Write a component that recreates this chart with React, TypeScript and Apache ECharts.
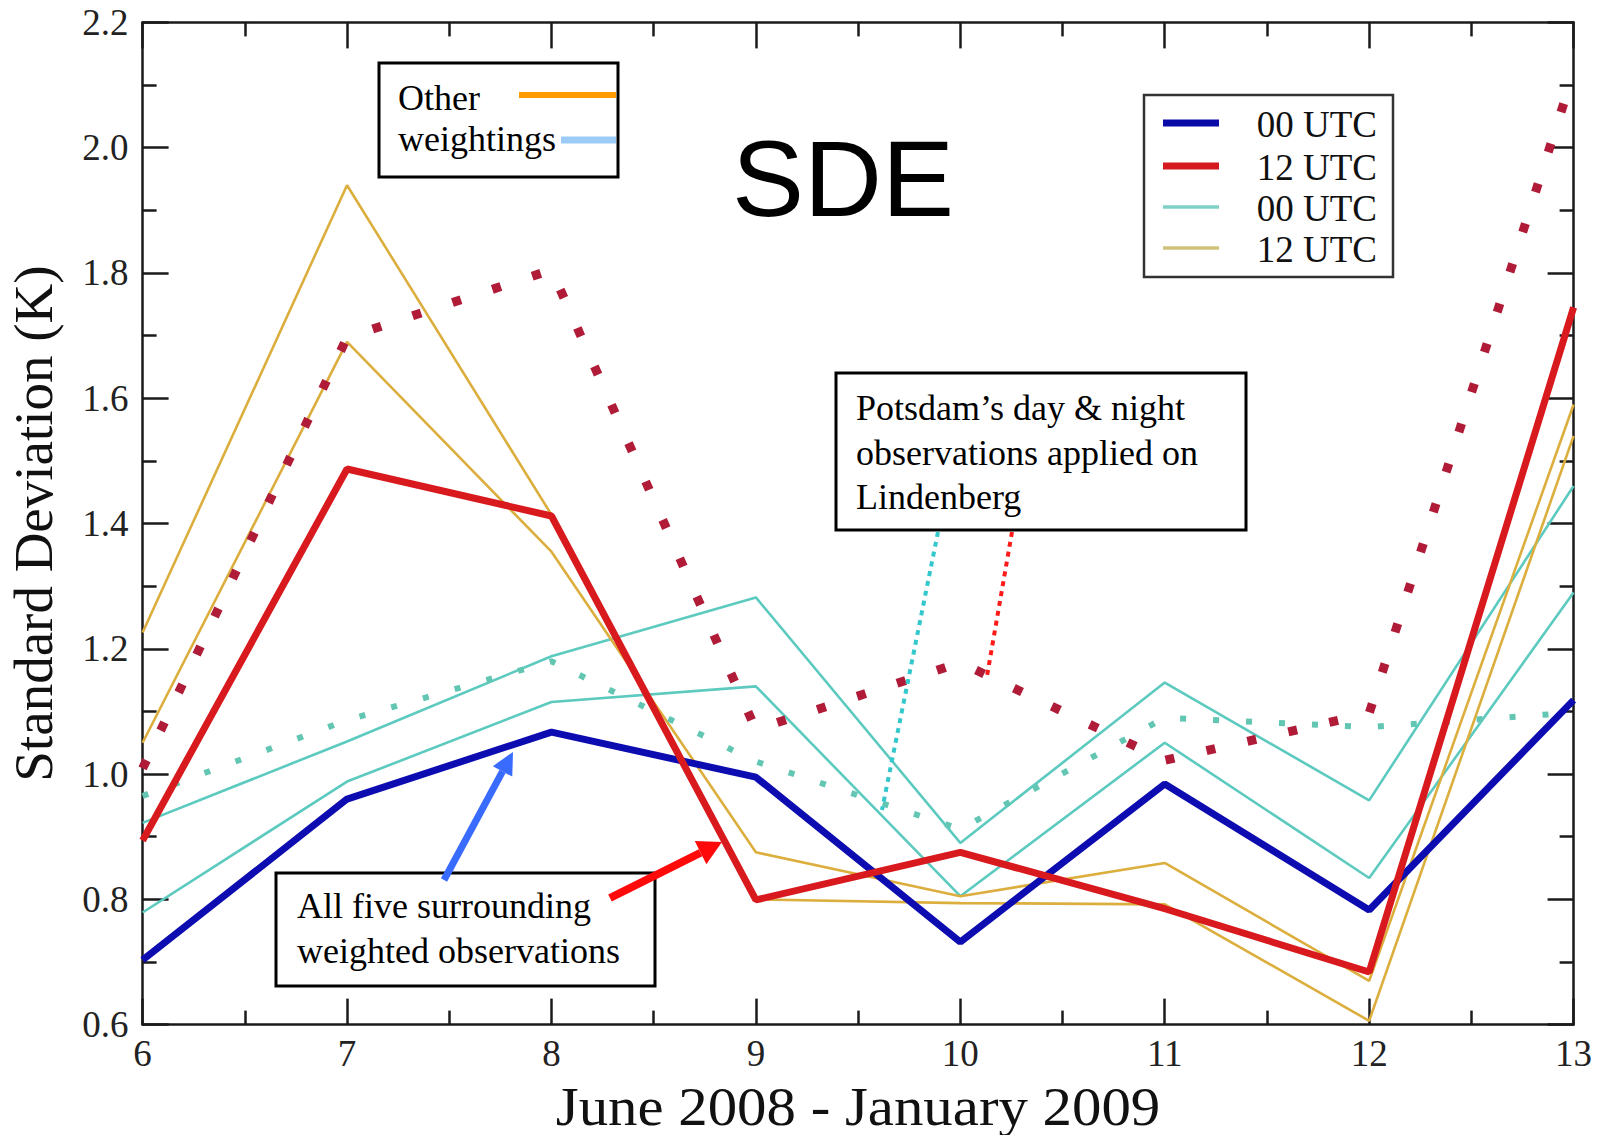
import React, { useEffect, useRef } from "react";
import * as echarts from "echarts";

// ---- data ----
const months = [6, 7, 8, 9, 10, 11, 12, 13];
const allFive00 = [0.703, 0.960, 1.067, 0.995, 0.732, 0.984, 0.783, 1.118];
const allFive12 = [0.894, 1.487, 1.412, 0.799, 0.875, 0.785, 0.684, 1.745];
const potsdam12 = [1.009, 1.697, 1.805, 1.071, 1.178, 1.022, 1.097, 2.12];
const potsdam00 = [0.965, 1.086, 1.180, 1.020, 0.912, 1.090, 1.075, 1.098];
const otherA00 = [0.922, 1.052, 1.188, 1.282, 0.890, 1.146, 0.958, 1.460];
const otherB00 = [0.779, 0.988, 1.115, 1.140, 0.805, 1.050, 0.834, 1.290];
const otherA12 = [1.226, 1.940, 1.414, 0.800, 0.794, 0.792, 0.606, 1.540];
const otherB12 = [1.050, 1.690, 1.355, 0.875, 0.805, 0.858, 0.670, 1.590];
const yTicks = [0.6, 0.8, 1.0, 1.2, 1.4, 1.6, 1.8, 2.0, 2.2];
const legendLabels = ["00 UTC", "12 UTC", "00 UTC", "12 UTC"];
const xTitle = "June 2008 - January 2009";

const SERIF = "'Liberation Serif', 'Times New Roman', serif";
const SANS = "'Liberation Sans', Arial, sans-serif";

const pairs = (vals: number[]) => months.map((m, i) => [m, vals[i]]);

function arrow(x1: number, y1: number, x2: number, y2: number, color: string, w: number, hl: number, hw: number) {
  const dx = x2 - x1, dy = y2 - y1;
  const len = Math.sqrt(dx * dx + dy * dy);
  const ux = dx / len, uy = dy / len;
  const bx = x2 - ux * hl, by = y2 - uy * hl;
  const px = -uy, py = ux;
  return [
    { type: "line", z: 100, shape: { x1, y1, x2: bx, y2: by }, style: { stroke: color, lineWidth: w } },
    {
      type: "polygon", z: 100,
      shape: { points: [[x2, y2], [bx + px * hw, by + py * hw], [bx - px * hw, by - py * hw]] },
      style: { fill: color },
    },
  ];
}

export default function App() {
  const ref = useRef<HTMLDivElement>(null);
  useEffect(() => {
    if (!ref.current) return;
    const chart = echarts.init(ref.current, null, { renderer: "svg" });

    const axisLine = { show: true, onZero: false, lineStyle: { color: "#1a1a1a", width: 2.5 } };
    const xBase = {
      type: "value", min: 6, max: 13, interval: 1,
      axisLine,
      axisTick: { show: true, inside: true, length: 26, lineStyle: { color: "#1a1a1a", width: 2.5 } },
      minorTick: { show: true, splitNumber: 2, length: 14, lineStyle: { color: "#1a1a1a", width: 2.5 } },
      splitLine: { show: false },
    };
    const yBase = {
      type: "value", min: 0.6, max: 2.2, interval: 0.2,
      axisLine,
      axisTick: { show: true, inside: true, length: 26, lineStyle: { color: "#1a1a1a", width: 2.5 } },
      minorTick: { show: true, splitNumber: 2, length: 14, lineStyle: { color: "#1a1a1a", width: 2.5 } },
      splitLine: { show: false },
    };

    const legendColors = ["#0a0aa8", "#d41a1e", "#7fd0c6", "#cfc27a"];
    const legendWidths = [7, 7, 3.5, 3.5];
    const legendRows = [123, 166, 207, 248];

    const graphics: any[] = [
      // x-axis title
      { type: "text", z: 100, x: 858, y: 1106, scaleX: 1.07, style: { text: xTitle, fontSize: 55, fontFamily: SERIF, fill: "#111", align: "center", verticalAlign: "middle" } },
      // SDE title
      { type: "text", z: 100, x: 843, y: 178, style: { text: "SDE", fontSize: 108, fontFamily: SANS, fill: "#000", align: "center", verticalAlign: "middle" } },
      // "Other weightings" box
      { type: "rect", z: 99, shape: { x: 379, y: 63, width: 239, height: 114 }, style: { fill: "#fff", stroke: "#000", lineWidth: 3 } },
      { type: "text", z: 100, x: 398, y: 98, style: { text: "Other", fontSize: 36, fontFamily: SERIF, fill: "#000", verticalAlign: "middle" } },
      { type: "text", z: 100, x: 398, y: 139, style: { text: "weightings", fontSize: 36, fontFamily: SERIF, fill: "#000", verticalAlign: "middle" } },
      { type: "line", z: 101, shape: { x1: 519, y1: 95, x2: 616, y2: 95 }, style: { stroke: "#ff9a00", lineWidth: 6 } },
      { type: "line", z: 101, shape: { x1: 561, y1: 140, x2: 616, y2: 140 }, style: { stroke: "#9ccbf7", lineWidth: 7 } },
      // UTC legend box
      { type: "rect", z: 99, shape: { x: 1144, y: 95, width: 249, height: 182 }, style: { fill: "#fff", stroke: "#333", lineWidth: 2.5 } },
      // Potsdam annotation
      { type: "rect", z: 99, shape: { x: 836, y: 373, width: 410, height: 157 }, style: { fill: "#fff", stroke: "#000", lineWidth: 3 } },
      { type: "text", z: 100, x: 856, y: 408, style: { text: "Potsdam\u2019s day & night", fontSize: 36, fontFamily: SERIF, fill: "#000", verticalAlign: "middle" } },
      { type: "text", z: 100, x: 856, y: 453, style: { text: "observations applied on", fontSize: 36, fontFamily: SERIF, fill: "#000", verticalAlign: "middle" } },
      { type: "text", z: 100, x: 856, y: 497, style: { text: "Lindenberg", fontSize: 36, fontFamily: SERIF, fill: "#000", verticalAlign: "middle" } },
      { type: "line", z: 100, shape: { x1: 938, y1: 532, x2: 882, y2: 810 }, style: { stroke: "#33c8cc", lineWidth: 4, lineDash: [5, 5] } },
      { type: "line", z: 100, shape: { x1: 1012, y1: 532, x2: 987, y2: 676 }, style: { stroke: "#ff1a1a", lineWidth: 4, lineDash: [5, 5] } },
      // All five annotation
      { type: "rect", z: 99, shape: { x: 276, y: 873, width: 379, height: 113 }, style: { fill: "#fff", stroke: "#000", lineWidth: 3 } },
      { type: "text", z: 100, x: 297, y: 906, style: { text: "All five surrounding", fontSize: 36, fontFamily: SERIF, fill: "#000", verticalAlign: "middle" } },
      { type: "text", z: 100, x: 297, y: 951, style: { text: "weighted observations", fontSize: 36, fontFamily: SERIF, fill: "#000", verticalAlign: "middle" } },
      ...arrow(444, 880, 513, 752, "#3a6bff", 7, 22, 11),
      ...arrow(610, 898, 722, 842, "#ff0a0a", 8, 24, 13),
    ];
    legendLabels.forEach((lab, i) => {
      graphics.push({ type: "line", z: 101, shape: { x1: 1163, y1: legendRows[i], x2: 1219, y2: legendRows[i] }, style: { stroke: legendColors[i], lineWidth: legendWidths[i] } });
      graphics.push({ type: "text", z: 101, x: 1377, y: legendRows[i] + 1, style: { text: lab, fontSize: 37, fontFamily: SERIF, fill: "#111", align: "right", verticalAlign: "middle" } });
    });

    const thin = (name: string, vals: number[], color: string) => ({
      name, type: "line", data: pairs(vals), symbol: "none", z: 2,
      lineStyle: { color, width: 2.6 },
    });

    chart.setOption({
      animation: false,
      backgroundColor: "#fff",
      grid: { left: 142.6, right: 23.4, top: 22.4, bottom: 110.4, containLabel: false, outerBoundsMode: "none" },
      xAxis: [
        {
          ...xBase, position: "bottom",
          axisLabel: { show: true, margin: 10, fontSize: 37, fontFamily: SERIF, color: "#222", formatter: (v: number) => String(v) },
        },
        { ...xBase, position: "top", axisLabel: { show: false } },
      ],
      yAxis: [
        {
          ...yBase, position: "left",
          axisLabel: {
            show: true, margin: 14, fontSize: 37, fontFamily: SERIF, color: "#222",
            formatter: (v: number) => (yTicks.some((t) => Math.abs(t - v) < 1e-6) ? v.toFixed(1) : ""),
          },
          name: "Standard Deviation (K)", nameLocation: "middle", nameGap: 82,
          nameTextStyle: { fontSize: 55, fontFamily: SERIF, color: "#111", verticalAlign: "bottom" },
        },
        { ...yBase, position: "right", axisLabel: { show: false } },
      ],
      series: [
        thin("Other weightings 00 UTC (a)", otherA00, "#5ccabf"),
        thin("Other weightings 00 UTC (b)", otherB00, "#5ccabf"),
        thin("Other weightings 12 UTC (a)", otherA12, "#dcae3e"),
        thin("Other weightings 12 UTC (b)", otherB12, "#dcae3e"),
        {
          name: "Potsdam 00 UTC", type: "line", data: pairs(potsdam00), symbol: "none", z: 3,
          lineStyle: { color: "#62c6b2", width: 6, type: [6, 27], cap: "butt" },
        },
        {
          name: "Potsdam 12 UTC", type: "line", data: pairs(potsdam12), symbol: "none", z: 3,
          lineStyle: { color: "#b01c38", width: 9, type: [9, 33], cap: "butt" },
        },
        {
          name: "All five 00 UTC", type: "line", data: pairs(allFive00), symbol: "none", z: 4,
          lineStyle: { color: "#0c0cb0", width: 7 },
        },
        {
          name: "All five 12 UTC", type: "line", data: pairs(allFive12), symbol: "none", z: 4,
          lineStyle: { color: "#d81a1e", width: 7 },
        },
      ],
      graphic: graphics,
    });
    return () => chart.dispose();
  }, []);

  return (
    <div
      ref={ref}
      style={{ position: "absolute", left: 0, top: 0, width: 1597, height: 1135, background: "#fff" }}
    />
  );
}
